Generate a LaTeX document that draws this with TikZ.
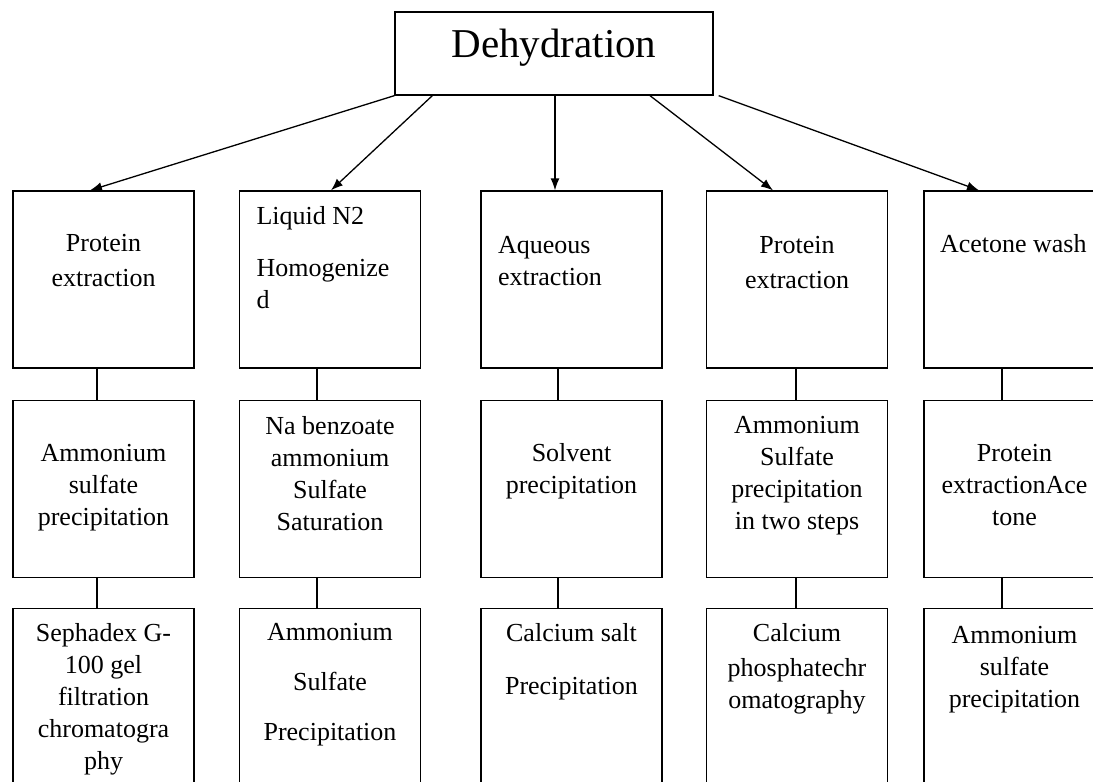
\documentclass[tikz,border=0pt]{standalone}
\usepackage{fontspec}
\setmainfont{Liberation Serif}
\usetikzlibrary{arrows.meta}
\begin{document}
\begin{tikzpicture}[x=1pt,y=-1pt,line width=1.3pt,>={Latex[length=12pt,width=9pt]},
  box/.style={draw,inner sep=0,minimum width=181pt,minimum height=177pt},
  txt/.style={font=\fontsize{26}{32}\selectfont,align=center,inner sep=0,anchor=north}]
\useasboundingbox (0,0) rectangle (1093,782);
\node[box,minimum width=318pt,minimum height=83pt] (top) at (554,53.5) {};
\node[font=\fontsize{41}{48}\selectfont,inner sep=0,anchor=north] (ttop) at ([yshift=-17]top.north) {Dehydration};
\foreach \c/\x in {1/103.5,2/330,3/571.5,4/797,5/1014.5}{
  \node[box] (a\c) at (\x,279.5) {};
  \node[box] (b\c) at (\x,489) {};
  \node[box] (c\c) at (\x,697) {};
}
\draw[->] (top.south west) -- ([xshift=-13.5]a1.north);
\draw[->] ([xshift=38]top.south west) -- ([xshift=1]a2.north);
\draw[->] ([xshift=1]top.south) -- ([xshift=-16.5]a3.north);
\draw[->] ([xshift=96]top.south) -- ([xshift=-24]a4.north);
\draw[->] ([xshift=5]top.south east) -- ([xshift=-35.5]a5.north);
\foreach \c/\s in {1/-6.5,2/-13,3/-13.5,4/-1,5/-12.5}{
  \draw ([xshift=\s]a\c.south) -- ([xshift=\s]b\c.north);
  \draw ([xshift=\s]b\c.south) -- ([xshift=\s]c\c.north);
}
% first row
\node[txt] (ta1) at ([yshift=-43]a1.north) {Protein\\[3pt]extraction};
\node[txt,align=left,anchor=north west] (ta2) at ([xshift=17,yshift=-15]a2.north west) {Liquid N2\\[20pt]Homogenize\\d};
\node[txt,align=left,anchor=north west] (ta3) at ([xshift=17,yshift=-45]a3.north west) {Aqueous\\extraction};
\node[txt] (ta4) at ([yshift=-45]a4.north) {Protein\\[3pt]extraction};
\node[txt,anchor=north west] (ta5) at ([xshift=16,yshift=-43]a5.north west) {Acetone wash};
% second row
\node[txt] (tb1) at ([yshift=-44]b1.north) {Ammonium\\sulfate\\precipitation};
\node[txt] (tb2) at ([yshift=-16]b2.north) {Na benzoate\\ammonium\\Sulfate\\Saturation};
\node[txt] (tb3) at ([yshift=-43]b3.north) {Solvent\\precipitation};
\node[txt] (tb4) at ([yshift=-16]b4.north) {Ammonium\\Sulfate\\precipitation\\in two steps};
\node[txt] (tb5) at ([yshift=-44]b5.north) {Protein\\extractionAce\\tone};
% third row
\node[txt] (tc1) at ([yshift=-15]c1.north) {Sephadex G-\\100 gel\\filtration\\chromatogra\\phy};
\node[txt] (tc2) at ([yshift=-15]c2.north) {Ammonium\\[18pt]Sulfate\\[18pt]Precipitation};
\node[txt] (tc3) at ([yshift=-15]c3.north) {Calcium salt\\[21pt]Precipitation};
\node[txt] (tc4) at ([yshift=-15]c4.north) {Calcium\\[3pt]phosphatechr\\omatography};
\node[txt] (tc5) at ([yshift=-18]c5.north) {Ammonium\\sulfate\\precipitation};
\end{tikzpicture}
\end{document}
